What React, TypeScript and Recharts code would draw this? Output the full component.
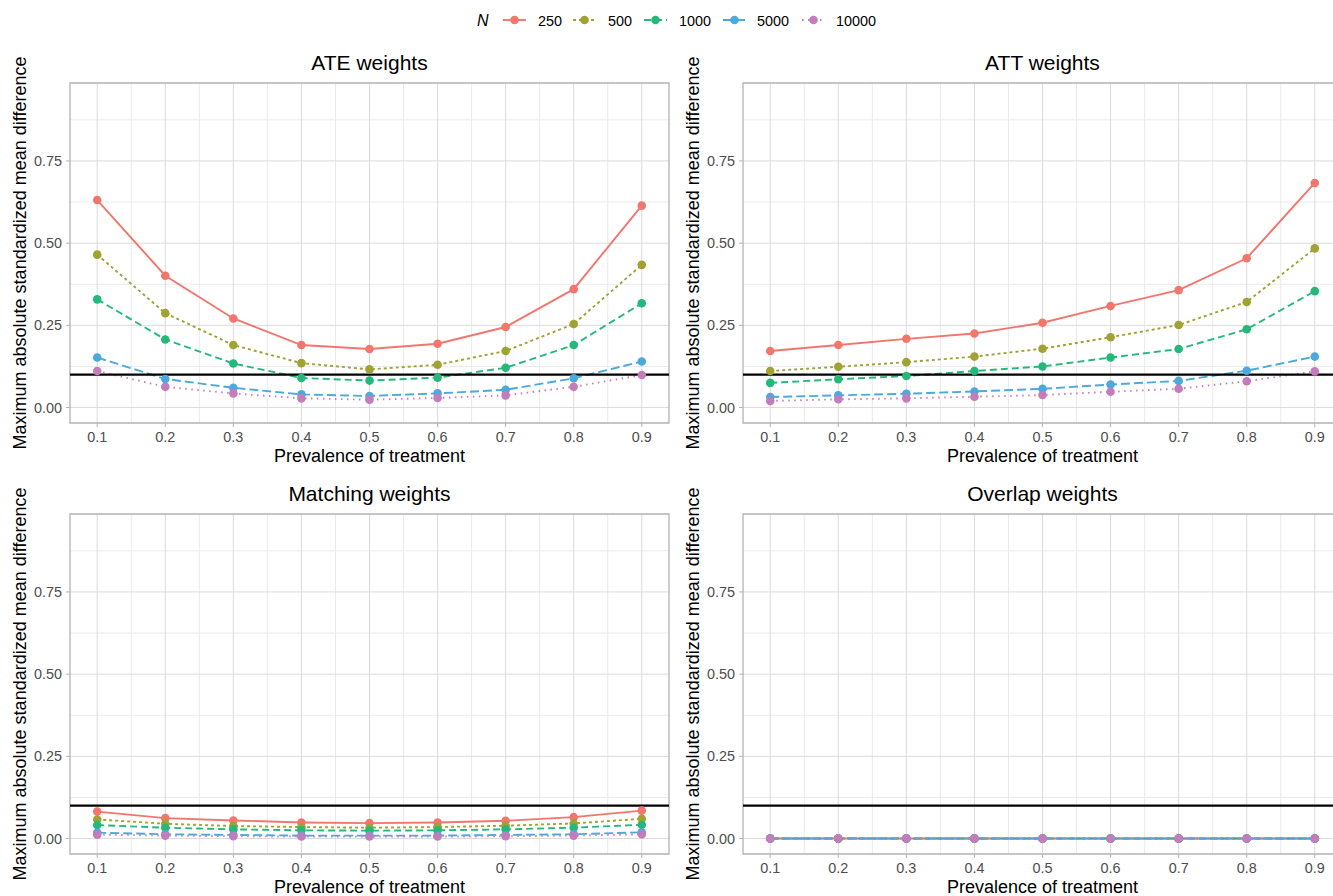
import React from 'react';
import { LineChart, Line, XAxis, YAxis, CartesianGrid, ReferenceLine, ReferenceArea } from 'recharts';

const prevalence = [0.1, 0.2, 0.3, 0.4, 0.5, 0.6, 0.7, 0.8, 0.9];
const minorX = [0.15, 0.25, 0.35, 0.45, 0.55, 0.65, 0.75, 0.85];
const majorY = [0, 0.25, 0.5, 0.75];
const minorY = [0.125, 0.375, 0.625, 0.875];

const sampleSizes = ['250', '500', '1000', '5000', '10000'];
const seriesColors = ['#F2766C', '#A0A232', '#24B97B', '#4BA9DC', '#C57CBC'];
const seriesDash = ['', '3 3', '7 4', '9 4', '1.5 4.5'];

const ate250 = [0.631, 0.401, 0.271, 0.19, 0.178, 0.194, 0.245, 0.36, 0.614];
const ate500 = [0.465, 0.287, 0.19, 0.135, 0.116, 0.13, 0.172, 0.254, 0.434];
const ate1000 = [0.329, 0.207, 0.134, 0.09, 0.082, 0.091, 0.121, 0.19, 0.317];
const ate5000 = [0.152, 0.087, 0.06, 0.04, 0.035, 0.043, 0.054, 0.089, 0.14];
const ate10000 = [0.111, 0.063, 0.043, 0.028, 0.024, 0.029, 0.037, 0.063, 0.099];

const att250 = [0.172, 0.19, 0.209, 0.225, 0.258, 0.309, 0.357, 0.454, 0.683];
const att500 = [0.111, 0.124, 0.138, 0.155, 0.179, 0.214, 0.251, 0.321, 0.484];
const att1000 = [0.075, 0.086, 0.096, 0.111, 0.125, 0.152, 0.178, 0.238, 0.354];
const att5000 = [0.032, 0.037, 0.042, 0.049, 0.057, 0.07, 0.081, 0.112, 0.155];
const att10000 = [0.02, 0.025, 0.028, 0.033, 0.038, 0.048, 0.057, 0.08, 0.11];

const mw250 = [0.082, 0.062, 0.055, 0.049, 0.047, 0.049, 0.054, 0.065, 0.085];
const mw500 = [0.058, 0.045, 0.038, 0.035, 0.033, 0.035, 0.039, 0.046, 0.06];
const mw1000 = [0.041, 0.033, 0.028, 0.025, 0.024, 0.025, 0.028, 0.033, 0.042];
const mw5000 = [0.018, 0.013, 0.011, 0.009, 0.009, 0.009, 0.011, 0.013, 0.019];
const mw10000 = [0.012, 0.009, 0.007, 0.006, 0.006, 0.006, 0.007, 0.009, 0.013];

const ow250 = [0, 0, 0, 0, 0, 0, 0, 0, 0];
const ow500 = [0, 0, 0, 0, 0, 0, 0, 0, 0];
const ow1000 = [0, 0, 0, 0, 0, 0, 0, 0, 0];
const ow5000 = [0, 0, 0, 0, 0, 0, 0, 0, 0];
const ow10000 = [0, 0, 0, 0, 0, 0, 0, 0, 0];

const panelTitles = ['ATE weights', 'ATT weights', 'Matching weights', 'Overlap weights'];

const buildRows = (series: number[][]) =>
  prevalence.map((x, i) => {
    const row: Record<string, number> = { x };
    sampleSizes.forEach((n, k) => {
      row['n' + n] = series[k][i];
    });
    return row;
  });

const panelData = [
  buildRows([ate250, ate500, ate1000, ate5000, ate10000]),
  buildRows([att250, att500, att1000, att5000, att10000]),
  buildRows([mw250, mw500, mw1000, mw5000, mw10000]),
  buildRows([ow250, ow500, ow1000, ow5000, ow10000]),
];

const FONT = '"Liberation Sans", Arial, Helvetica, sans-serif';
const X_DOMAIN: [number, number] = [0.06, 0.94];
const Y_DOMAIN: [number, number] = [-0.047, 0.987];

const PLOT_TOP = 83;
const PLOT_H = 340;
const Y_AXIS_W = 70;
const X_AXIS_H = 47;
const PLOT_W = 599;
const CHART_W = 680;
const RIGHT_LEFT = 673;
const BOTTOM_TOP = 431;

type PanelProps = { idx: number; left: number; top: number };

function Panel({ idx, left, top }: PanelProps) {
  const width = CHART_W;
  const height = PLOT_TOP + PLOT_H + X_AXIS_H;
  const rightMargin = width - Y_AXIS_W - PLOT_W;
  const cx = Y_AXIS_W + PLOT_W / 2;
  const cy = PLOT_TOP + PLOT_H / 2;
  return (
    <div style={{ position: 'absolute', left, top, width, height }}>
      <LineChart
        width={width}
        height={height}
        data={panelData[idx]}
        margin={{ top: PLOT_TOP, right: rightMargin, bottom: 0, left: 0 }}
      >
        <CartesianGrid horizontalValues={minorY} verticalValues={minorX} stroke="#EBEBEB" strokeWidth={1} />
        <CartesianGrid horizontalValues={majorY} verticalValues={prevalence} stroke="#DBDBDB" strokeWidth={1} />
        <XAxis
          type="number"
          dataKey="x"
          domain={X_DOMAIN}
          ticks={prevalence}
          allowDataOverflow
          interval={0}
          tickFormatter={(v: number) => v.toFixed(1)}
          tick={{ fill: '#4D4D4D', fontSize: 14.4, fontFamily: FONT }}
          tickLine={{ stroke: '#B3B3B3' }}
          tickSize={4}
          tickMargin={5}
          axisLine={false}
          height={X_AXIS_H}
          label={{
            content: () => (
              <text x={cx} y={PLOT_TOP + PLOT_H + 39} textAnchor="middle" fontSize={18} fontFamily={FONT} fill="#000">
                Prevalence of treatment
              </text>
            ),
          }}
        />
        <YAxis
          type="number"
          domain={Y_DOMAIN}
          ticks={majorY}
          allowDataOverflow
          interval={0}
          tickFormatter={(v: number) => v.toFixed(2)}
          tick={{ fill: '#4D4D4D', fontSize: 14.4, fontFamily: FONT }}
          tickLine={{ stroke: '#B3B3B3' }}
          tickSize={4}
          tickMargin={4}
          axisLine={false}
          width={Y_AXIS_W}
          label={{
            content: () => (
              <text
                x={26}
                y={cy}
                transform={`rotate(-90, 26, ${cy})`}
                textAnchor="middle"
                fontSize={18}
                fontFamily={FONT}
                fill="#000"
              >
                Maximum absolute standardized mean difference
              </text>
            ),
          }}
        />
        <ReferenceArea
          x1={X_DOMAIN[0]}
          x2={X_DOMAIN[1]}
          y1={Y_DOMAIN[0]}
          y2={Y_DOMAIN[1]}
          fill="none"
          fillOpacity={0}
          stroke="#B3B3B3"
          strokeWidth={1.3}
          ifOverflow="visible"
        />
        {sampleSizes.map((n, k) => (
          <Line
            key={n}
            type="linear"
            dataKey={'n' + n}
            stroke={seriesColors[k]}
            strokeWidth={1.9}
            strokeDasharray={seriesDash[k] || undefined}
            dot={{ r: 4.3, fill: seriesColors[k], stroke: seriesColors[k], strokeWidth: 0, strokeDasharray: '' }}
            activeDot={false}
            isAnimationActive={false}
          />
        ))}
        <ReferenceLine y={0.1} stroke="#000" strokeWidth={2.2} />
      </LineChart>
    </div>
  );
}

const legendKeyX = [503, 573, 644, 723, 802];
const legendLabelX = [538, 608, 679, 757, 836];

export default function App() {
  return (
    <div
      style={{
        position: 'absolute',
        left: 0,
        top: 0,
        width: 1333,
        height: 896,
        background: '#fff',
        overflow: 'hidden',
        fontFamily: FONT,
      }}
    >
      <Panel idx={0} left={0} top={0} />
      <Panel idx={1} left={RIGHT_LEFT} top={0} />
      <Panel idx={2} left={0} top={BOTTOM_TOP} />
      <Panel idx={3} left={RIGHT_LEFT} top={BOTTOM_TOP} />
      <svg
        width={1333}
        height={896}
        style={{ position: 'absolute', left: 0, top: 0, pointerEvents: 'none' }}
      >
        {panelTitles.map((t, i) => (
          <text
            key={t}
            x={(i % 2 === 0 ? 0 : RIGHT_LEFT) + Y_AXIS_W + PLOT_W / 2}
            y={(i < 2 ? 0 : BOTTOM_TOP) + 70}
            textAnchor="middle"
            fontSize={21}
            fontFamily={FONT}
            fill="#000"
          >
            {t}
          </text>
        ))}
        <text x={477} y={26} fontSize={16} fontStyle="italic" fontFamily={FONT} fill="#000">
          N
        </text>
        {sampleSizes.map((n, k) => (
          <g key={n}>
            <line
              x1={legendKeyX[k]}
              x2={legendKeyX[k] + 23}
              y1={20}
              y2={20}
              stroke={seriesColors[k]}
              strokeWidth={1.9}
              strokeDasharray={seriesDash[k] || undefined}
            />
            <circle cx={legendKeyX[k] + 11.5} cy={20} r={4.3} fill={seriesColors[k]} />
            <text x={legendLabelX[k]} y={25.5} fontSize={14.4} fontFamily={FONT} fill="#000">
              {n}
            </text>
          </g>
        ))}
      </svg>
    </div>
  );
}
